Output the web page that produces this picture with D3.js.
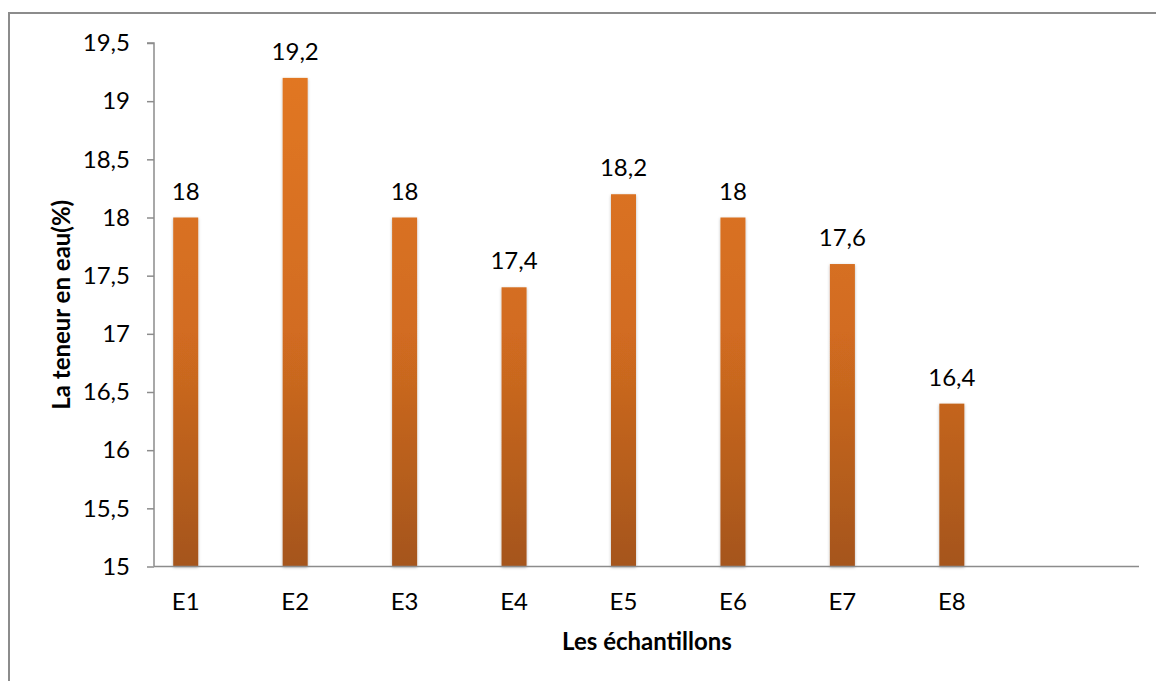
<!DOCTYPE html>
<html>
<head>
<meta charset="utf-8">
<script src="https://cdn.jsdelivr.net/npm/d3@7/dist/d3.min.js"></script>
<style>
  html, body { margin: 0; padding: 0; background: #fff; }
  svg { display: block; font-family: Lato, "Open Sans", sans-serif; }
</style>
</head>
<body>
<svg id="chart" width="1156" height="681"></svg>
<script>
// Water content per sample (%)
const categories = ["E1", "E2", "E3", "E4", "E5", "E6", "E7", "E8", ""];
const values = [18, 19.2, 18, 17.4, 18.2, 18, 17.6, 16.4];
const valueLabels = ["18", "19,2", "18", "17,4", "18,2", "18", "17,6", "16,4"];
const yTicks = [15, 15.5, 16, 16.5, 17, 17.5, 18, 18.5, 19, 19.5];

const svg = d3.select("#chart");
const frame = { left: 9, top: 13 };
const plot = { left: 154, right: 1139, top: 43, bottom: 566.5 };
const fontSize = 24;

const fmt = d => String(d).replace(".", ",");

// outer frame (open to the right and bottom edges)
svg.append("rect")
  .attr("x", frame.left).attr("y", frame.top)
  .attr("width", 1200).attr("height", 800)
  .attr("fill", "#fff").attr("stroke", "#8c8c8c").attr("stroke-width", 2);

const defs = svg.append("defs");
const grad = defs.append("linearGradient")
  .attr("id", "barFill").attr("x1", 0).attr("x2", 0)
  .attr("gradientUnits", "userSpaceOnUse")
  .attr("y1", plot.top).attr("y2", plot.bottom);
grad.append("stop").attr("offset", "0%").attr("stop-color", "#e37822");
grad.append("stop").attr("offset", "55%").attr("stop-color", "#d26c20");
grad.append("stop").attr("offset", "100%").attr("stop-color", "#a5551c");

const shadow = defs.append("filter").attr("id", "barShadow")
  .attr("x", "-40%").attr("y", "-5%").attr("width", "180%").attr("height", "110%");
shadow.append("feDropShadow")
  .attr("dx", 0).attr("dy", 1).attr("stdDeviation", 1.8)
  .attr("flood-color", "#000").attr("flood-opacity", 0.28);

const y = d3.scaleLinear().domain([15, 19.5]).range([plot.bottom, plot.top]);

// category slots: bars sit left of the slot centre, last slot is empty
const bandShift = 23;
const x = d3.scaleBand().domain(categories)
  .range([plot.left - bandShift, plot.right - bandShift]).padding(0);
const barW = 25;
const cx = c => x(c) + x.bandwidth() / 2;

// y axis
const yAxis = d3.axisLeft(y).tickValues(yTicks).tickFormat(fmt).tickSize(7).tickPadding(17);
const gy = svg.append("g").attr("transform", `translate(${plot.left},0)`).call(yAxis);
gy.select(".domain").attr("stroke", "#8c8c8c").attr("stroke-width", 1.5).attr("d", `M-7,${plot.top}H0V${plot.bottom}`);
gy.selectAll(".tick line").attr("stroke", "#8c8c8c").attr("stroke-width", 1.5);
gy.selectAll(".tick text").attr("font-size", fontSize).attr("fill", "#000")
  .attr("font-family", "Lato, sans-serif");

// bars
svg.append("g").selectAll("rect")
  .data(values)
  .join("rect")
  .attr("x", (d, i) => cx(categories[i]) - barW / 2)
  .attr("y", d => y(d))
  .attr("width", barW)
  .attr("height", d => y(15) - y(d))
  .attr("fill", "url(#barFill)")
  .attr("filter", "url(#barShadow)");

// x axis line
svg.append("line")
  .attr("x1", plot.left).attr("x2", plot.right)
  .attr("y1", plot.bottom).attr("y2", plot.bottom)
  .attr("stroke", "#8c8c8c").attr("stroke-width", 1.5);

// category labels
svg.append("g").selectAll("text")
  .data(categories.filter(c => c))
  .join("text")
  .attr("x", c => cx(c))
  .attr("y", 610)
  .attr("text-anchor", "middle")
  .attr("font-size", fontSize)
  .attr("fill", "#000")
  .text(c => c);

// value labels
svg.append("g").selectAll("text")
  .data(values)
  .join("text")
  .attr("x", (d, i) => cx(categories[i]))
  .attr("y", d => y(d) - 18)
  .attr("text-anchor", "middle")
  .attr("font-size", fontSize)
  .attr("fill", "#000")
  .text((d, i) => valueLabels[i]);

// axis titles
svg.append("text")
  .attr("x", 647).attr("y", 650)
  .attr("text-anchor", "middle")
  .attr("font-size", 24).attr("font-weight", "bold")
  .text("Les échantillons");

svg.append("text")
  .attr("transform", `translate(70,${(plot.top + plot.bottom) / 2}) rotate(-90)`)
  .attr("text-anchor", "middle")
  .attr("font-size", 24).attr("font-weight", "bold")
  .text("La teneur en eau(%)");
</script>
</body>
</html>
